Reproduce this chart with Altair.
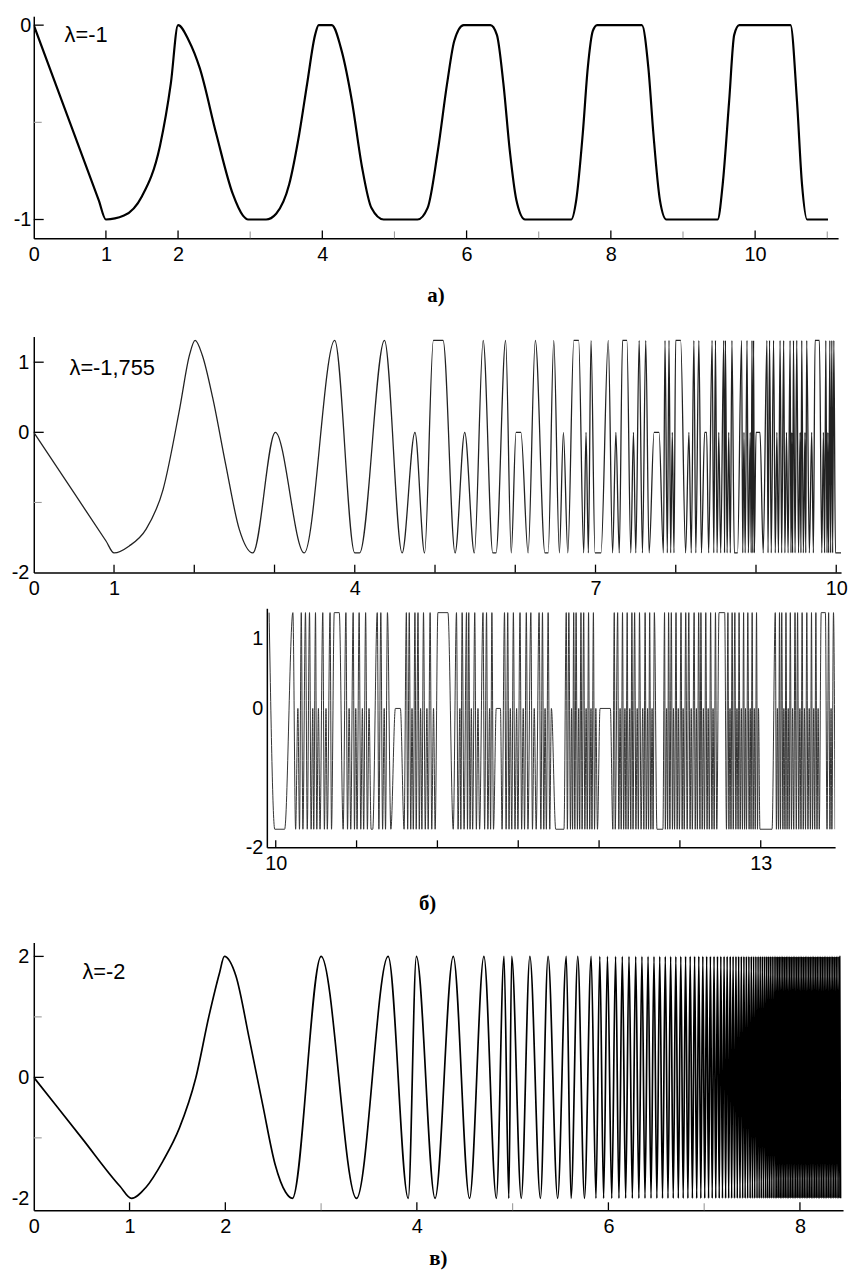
import altair as alt
import pandas as pd

# ---------------- panel а)  (λ = -1) ----------------
a_t = [0, 0.5, 0.9, 1.0, 1.25, 1.5, 1.75, 1.9, 2.0, 2.15, 2.3, 2.53, 2.76, 2.9, 2.97, 3.22,
       3.36, 3.54, 3.68, 3.79, 3.90, 3.95, 4.13, 4.27, 4.41, 4.55, 4.68, 4.85, 5.32,
       5.46, 5.60, 5.73, 5.83, 5.96, 6.33, 6.42, 6.51, 6.60, 6.69, 6.81, 7.45, 7.52, 7.61,
       7.68, 7.75, 7.81, 8.43, 8.52, 8.59, 8.68, 8.77, 9.48, 9.55, 9.64, 9.71, 9.78, 10.49,
       10.58, 10.65, 10.72, 11.01]
a_v = [0, -0.5, -0.9, -1.0, -0.98, -0.88, -0.62, -0.3, 0.0, -0.08, -0.22, -0.56, -0.87, -0.98, -1.0, -1.0,
       -0.97, -0.82, -0.56, -0.30, -0.05, 0.0, 0.0, -0.135, -0.39, -0.73, -0.94, -1.0, -1.0,
       -0.94, -0.65, -0.30, -0.08, 0.0, 0.0, -0.05, -0.30, -0.65, -0.90, -1.0, -1.0, -0.90, -0.56,
       -0.22, -0.03, 0.0, 0.0, -0.22, -0.56, -0.90, -1.0, -1.0, -0.82, -0.39, -0.05, 0.0, 0.0,
       -0.39, -0.82, -1.0, -1.0]

# ---------------- panel б)  (λ = -1,755) ----------------
B_LEVELS = {"H": 1.31, "M": 0.0, "L": -1.72}        # upper part, as read against its axis
BB_LEVELS = {"H": 1.38, "M": 0.0, "L": -1.74}       # lower (continued) part, as read against its axis
b_start_t = [0, 0.5, 0.9, 1.19, 1.40, 1.61, 1.82, 1.94, 2.10, 2.23, 2.39, 2.56]
b_start_v = [0, -0.86, -1.55, -1.62, -1.38, -0.82, 0.35, 1.10, 1.10, 0.49, -0.45, -1.38]
b_top_ext = [
    (1.0, "L"), (2.01, "H"), (2.73, "L"), (3.01, "M"), (3.37, "L"), (3.75, "H"), (4.00, "L"), (4.06, "L"),
    (4.37, "H"), (4.59, "L"), (4.75, "M"), (4.87, "L"), (4.98, "H"), (5.10, "H"), (5.25, "L"), (5.37, "M"),
    (5.49, "L"), (5.60, "H"), (5.72, "L"), (5.76, "L"), (5.88, "H"), (5.95, "L"), (6.01, "M"), (6.07, "M"),
    (6.16, "L"), (6.25, "H"), (6.37, "L"), (6.41, "L"), (6.48, "H"), (6.55, "L"), (6.60, "M"), (6.655, "L"),
    (6.73, "H"), (6.79, "H"), (6.853, "L"), (6.882, "M"), (6.911, "L"), (6.944, "H"), (6.994, "L"), (7.068, "L"),
    (7.159, "H"), (7.213, "L"), (7.254, "M"), (7.296, "L"), (7.337, "H"), (7.391, "H"), (7.44, "L"), (7.473, "M"),
    (7.502, "L"), (7.544, "H"), (7.585, "L"), (7.626, "H"), (7.668, "L"), (7.73, "M"), (7.792, "M"), (7.846, "L"),
    (7.866, "H"), (7.895, "L"), (7.916, "H"), (7.937, "L"), (7.957, "M"), (7.978, "L"), (7.999, "H"), (8.061, "H"),
    (8.123, "L"), (8.164, "M"), (8.193, "L"), (8.226, "H"), (8.25, "L"), (8.288, "H"), (8.32, "L"), (8.36, "M"),
    (8.385, "M"), (8.41, "L"), (8.453, "H"), (8.474, "L"), (8.495, "H"), (8.515, "L"), (8.536, "M"), (8.56, "L"),
    (8.598, "H"), (8.608, "L"), (8.619, "H"), (8.64, "L"), (8.66, "M"), (8.68, "L"), (8.70, "H"), (8.73, "L"),
    (8.77, "L"), (8.82, "H"), (8.835, "L"), (8.85, "M"), (8.865, "L"), (8.888, "H"), (8.905, "L"), (8.928, "M"),
    (8.94, "L"), (8.95, "H"), (8.96, "L"), (8.97, "H"), (8.98, "L"), (9.0, "M"), (9.05, "M"), (9.09, "L"),
    (9.136, "H"), (9.15, "L"), (9.169, "H"), (9.19, "L"), (9.219, "H"), (9.24, "L"), (9.26, "M"), (9.28, "L"),
    (9.30, "H"), (9.32, "L"), (9.345, "H"), (9.36, "L"), (9.38, "M"), (9.40, "L"), (9.425, "H"), (9.436, "L"),
    (9.446, "M"), (9.456, "L"), (9.467, "H"), (9.487, "L"), (9.508, "H"), (9.53, "L"), (9.55, "M"), (9.56, "L"),
    (9.57, "H"), (9.59, "L"), (9.61, "M"), (9.62, "L"), (9.632, "H"), (9.665, "L"), (9.694, "M"), (9.715, "L"),
    (9.736, "H"), (9.79, "H"), (9.82, "L"), (9.84, "M"), (9.855, "L"), (9.87, "H"), (9.885, "L"), (9.895, "M"),
    (9.905, "L"), (9.92, "H"), (9.93, "L"), (9.945, "H"), (9.955, "L"), (9.97, "H"), (9.99, "L"), (10.06, "L"),
]
b_bot_ext = [
    (9.959, "H"), (9.994, "L"), (10.055, "L"), (10.106, "H"), (10.123, "L"), (10.137, "M"), (10.147, "L"),
    (10.158, "H"), (10.168, "L"), (10.184, "H"), (10.195, "L"), (10.209, "H"), (10.219, "L"), (10.229, "M"),
    (10.235, "L"), (10.246, "H"), (10.254, "L"), (10.264, "M"), (10.274, "L"), (10.291, "H"), (10.301, "L"),
    (10.311, "M"), (10.319, "L"), (10.336, "H"), (10.345, "L"), (10.362, "H"), (10.393, "H"), (10.417, "L"),
    (10.434, "H"), (10.444, "L"), (10.454, "M"), (10.464, "L"), (10.479, "H"), (10.487, "L"), (10.495, "M"),
    (10.503, "L"), (10.516, "H"), (10.526, "L"), (10.536, "M"), (10.544, "L"), (10.556, "H"), (10.567, "L"),
    (10.577, "M"), (10.59, "L"), (10.60, "L"), (10.628, "H"), (10.638, "L"), (10.650, "H"), (10.661, "L"),
    (10.671, "M"), (10.679, "L"), (10.691, "H"), (10.712, "L"), (10.740, "M"), (10.771, "M"), (10.794, "L"),
    (10.808, "H"), (10.816, "L"), (10.826, "H"), (10.835, "L"), (10.843, "M"), (10.851, "L"), (10.861, "H"),
    (10.869, "L"), (10.880, "H"), (10.888, "L"), (10.896, "M"), (10.904, "L"), (10.914, "H"), (10.925, "L"),
    (10.935, "M"), (10.943, "L"), (10.955, "H"), (10.965, "L"), (10.976, "M"), (10.986, "L"), (11.003, "H"),
    (11.065, "H"), (11.098, "L"), (11.118, "H"), (11.128, "L"), (11.139, "M"), (11.145, "L"), (11.153, "H"),
    (11.165, "L"), (11.18, "H"), (11.186, "L"), (11.194, "H"), (11.202, "L"), (11.21, "M"), (11.218, "L"),
    (11.231, "H"), (11.241, "L"), (11.251, "M"), (11.261, "L"), (11.282, "H"), (11.292, "L"), (11.304, "H"),
    (11.312, "L"), (11.323, "M"), (11.329, "L"), (11.337, "H"), (11.347, "L"), (11.364, "M"), (11.39, "M"),
    (11.40, "L"), (11.415, "H"), (11.425, "L"), (11.435, "H"), (11.443, "L"), (11.451, "M"), (11.46, "L"),
    (11.47, "H"), (11.48, "L"), (11.49, "M"), (11.498, "L"), (11.511, "H"), (11.521, "L"), (11.531, "M"),
    (11.539, "L"), (11.55, "H"), (11.56, "L"), (11.578, "H"), (11.588, "L"), (11.599, "M"), (11.611, "L"),
    (11.629, "H"), (11.64, "L"), (11.65, "H"), (11.658, "L"), (11.666, "M"), (11.674, "L"), (11.685, "H"),
    (11.695, "L"), (11.705, "M"), (11.732, "L"), (11.783, "L"), (11.797, "H"), (11.804, "L"), (11.813, "H"),
    (11.823, "L"), (11.83, "M"), (11.836, "L"), (11.843, "H"), (11.85, "L"), (11.858, "H"), (11.866, "L"),
    (11.874, "M"), (11.88, "L"), (11.888, "H"), (11.895, "L"), (11.905, "H"), (11.912, "L"), (11.92, "M"),
    (11.927, "L"), (11.935, "H"), (11.942, "L"), (11.95, "M"), (11.956, "L"), (11.965, "H"), (11.972, "L"),
    (11.98, "M"), (11.99, "L"), (12.006, "M"), (12.07, "M"), (12.085, "L"), (12.094, "H"), (12.10, "L"),
    (12.115, "H"), (12.122, "L"), (12.13, "M"), (12.137, "L"), (12.145, "H"), (12.152, "L"), (12.16, "M"),
    (12.166, "L"), (12.174, "H"), (12.18, "L"), (12.19, "M"), (12.196, "L"), (12.203, "H"), (12.21, "L"),
    (12.22, "H"), (12.228, "L"), (12.236, "M"), (12.243, "L"), (12.25, "H"), (12.26, "L"), (12.27, "M"),
    (12.277, "L"), (12.285, "H"), (12.292, "L"), (12.3, "M"), (12.306, "L"), (12.313, "H"), (12.32, "L"),
    (12.328, "M"), (12.334, "L"), (12.342, "H"), (12.358, "L"), (12.395, "L"), (12.405, "H"), (12.41, "L"),
    (12.418, "M"), (12.424, "L"), (12.43, "H"), (12.438, "L"), (12.447, "H"), (12.454, "L"), (12.46, "M"),
    (12.467, "L"), (12.476, "H"), (12.483, "L"), (12.49, "M"), (12.497, "L"), (12.507, "H"), (12.514, "L"),
    (12.52, "M"), (12.527, "L"), (12.536, "H"), (12.545, "L"), (12.555, "H"), (12.563, "L"), (12.57, "M"),
    (12.577, "L"), (12.588, "H"), (12.595, "L"), (12.602, "M"), (12.608, "L"), (12.616, "H"), (12.624, "L"),
    (12.63, "H"), (12.638, "L"), (12.645, "M"), (12.652, "L"), (12.66, "H"), (12.668, "L"), (12.675, "M"),
    (12.682, "L"), (12.69, "H"), (12.698, "L"), (12.705, "M"), (12.712, "L"), (12.72, "H"), (12.728, "L"),
    (12.742, "H"), (12.777, "H"), (12.788, "L"), (12.797, "H"), (12.803, "L"), (12.81, "M"), (12.816, "L"),
    (12.823, "H"), (12.83, "L"), (12.84, "H"), (12.846, "L"), (12.853, "M"), (12.86, "L"), (12.866, "H"),
    (12.873, "L"), (12.88, "M"), (12.887, "L"), (12.894, "H"), (12.9, "L"), (12.906, "M"), (12.912, "L"),
    (12.92, "H"), (12.928, "L"), (12.935, "M"), (12.94, "L"), (12.947, "H"), (12.953, "L"), (12.96, "M"),
    (12.966, "L"), (12.974, "H"), (12.98, "L"), (12.986, "M"), (12.995, "L"), (13.07, "L"), (13.09, "H"),
    (13.097, "L"), (13.103, "M"), (13.11, "L"), (13.116, "H"), (13.122, "L"), (13.13, "H"), (13.137, "L"),
    (13.143, "M"), (13.15, "L"), (13.156, "H"), (13.163, "L"), (13.17, "M"), (13.176, "L"), (13.183, "H"),
    (13.19, "L"), (13.197, "M"), (13.204, "L"), (13.212, "H"), (13.22, "L"), (13.228, "H"), (13.235, "L"),
    (13.242, "M"), (13.249, "L"), (13.256, "H"), (13.263, "L"), (13.27, "M"), (13.277, "L"), (13.285, "H"),
    (13.292, "L"), (13.3, "M"), (13.307, "L"), (13.314, "H"), (13.32, "L"), (13.328, "M"), (13.334, "L"),
    (13.341, "H"), (13.348, "L"), (13.355, "M"), (13.362, "L"), (13.374, "H"), (13.40, "H"), (13.41, "L"),
    (13.42, "H"), (13.428, "L"), (13.435, "M"), (13.44, "L"), (13.45, "H"), (13.46, "L"),
]

# ---------------- panel в)  (λ = -2) ----------------
C_LEVELS = {"H": 2.0, "L": -2.0}
c_start_t = [0, 0.5, 0.9, 1.17, 1.35, 1.52, 1.69, 1.83, 1.94, 2.11, 2.25, 2.39, 2.52, 2.63]
c_start_v = [0, -1.0, -1.8, -1.82, -1.38, -0.84, -0.02, 1.02, 1.73, 1.68, 0.64, -0.45, -1.44, -1.9]
c_ext = [
    (1.02, "L"), (1.99, "H"), (2.70, "L"), (3.00, "H"), (3.37, "L"), (3.70, "H"), (3.91, "L"), (3.995, "H"),
    (4.19, "L"), (4.38, "H"), (4.55, "L"), (4.70, "H"), (4.83, "L"), (4.91, "H"), (4.96, "L"), (4.99, "H"),
    (5.09, "L"), (5.18, "H"), (5.29, "L"), (5.37, "H"), (5.47, "L"), (5.56, "H"), (5.61, "L"), (5.68, "H"),
    (5.75, "L"), (5.82, "H"), (5.87, "L"), (5.91, "H"), (5.95, "L"), (5.99, "H"), (6.035, "L"), (6.075, "H"),
    (6.11, "L"), (6.145, "H"), (6.18, "L"), (6.215, "H"), (6.25, "L"), (6.285, "H"), (6.318, "L"), (6.35, "H"),
    (6.382, "L"), (6.414, "H"), (6.445, "L"), (6.476, "H"), (6.506, "L"), (6.536, "H"), (6.565, "L"), (6.594, "H"),
    (6.622, "L"), (6.65, "H"), (6.677, "L"), (6.704, "H"), (6.73, "L"), (6.756, "H"), (6.781, "L"), (6.806, "H"),
    (6.83, "L"), (6.854, "H"), (6.877, "L"), (6.9, "H"), (6.922, "L"), (6.944, "H"), (6.965, "L"), (6.986, "H"),
    (7.006, "L"), (7.026, "H"), (7.046, "L"), (7.065, "H"), (7.084, "L"), (7.103, "H"), (7.121, "L"), (7.139, "H"),
    (7.157, "L"), (7.174, "H"), (7.191, "L"), (7.208, "H"), (7.224, "L"), (7.24, "H"), (7.256, "L"), (7.272, "H"),
    (7.287, "L"), (7.302, "H"), (7.317, "L"), (7.332, "H"), (7.346, "L"), (7.36, "H"), (7.374, "L"), (7.388, "H"),
    (7.402, "L"), (7.415, "H"), (7.428, "L"), (7.441, "H"), (7.454, "L"), (7.467, "H"), (7.48, "L"), (7.492, "H"),
    (7.504, "L"), (7.516, "H"), (7.528, "L"), (7.54, "H"), (7.552, "L"), (7.563, "H"), (7.574, "L"), (7.585, "H"),
    (7.596, "L"), (7.607, "H"), (7.618, "L"), (7.629, "H"), (7.64, "L"), (7.65, "H"), (7.66, "L"), (7.67, "H"),
    (7.68, "L"), (7.69, "H"), (7.7, "L"), (7.71, "H"), (7.72, "L"), (7.73, "H"), (7.74, "L"), (7.749, "H"),
    (7.758, "L"), (7.767, "H"), (7.776, "L"), (7.785, "H"), (7.794, "L"), (7.803, "H"), (7.812, "L"), (7.821, "H"),
    (7.83, "L"), (7.839, "H"), (7.848, "L"), (7.857, "H"), (7.866, "L"), (7.875, "H"), (7.884, "L"), (7.893, "H"),
    (7.902, "L"), (7.911, "H"), (7.92, "L"), (7.929, "H"), (7.938, "L"), (7.947, "H"), (7.956, "L"), (7.965, "H"),
    (7.974, "L"), (7.983, "H"), (7.992, "L"), (8.001, "H"), (8.01, "L"), (8.019, "H"), (8.028, "L"), (8.037, "H"),
    (8.046, "L"), (8.055, "H"), (8.064, "L"), (8.073, "H"), (8.082, "L"), (8.091, "H"), (8.1, "L"), (8.109, "H"),
    (8.118, "L"), (8.127, "H"), (8.136, "L"), (8.145, "H"), (8.154, "L"), (8.163, "H"), (8.172, "L"), (8.181, "H"),
    (8.19, "L"), (8.199, "H"), (8.208, "L"), (8.217, "H"), (8.226, "L"), (8.235, "H"), (8.244, "L"), (8.253, "H"),
    (8.262, "L"), (8.271, "H"), (8.28, "L"), (8.289, "H"), (8.298, "L"), (8.307, "H"), (8.316, "L"), (8.325, "H"),
    (8.334, "L"), (8.343, "H"), (8.352, "L"), (8.361, "H"), (8.37, "L"), (8.379, "H"), (8.388, "L"), (8.397, "H"),
    (8.406, "L"), (8.415, "H"), (8.424, "L"),
]

# ---------------- axes: labels and ticks ----------------
a_xlabels = [0, 1, 2, 4, 6, 8, 10]
a_xticks = [1, 2, 4, 6, 8, 10]
a_xminor = [3, 5, 7, 9, 11]
a_ylabels = [0, -1]
a_yticks = [0, -1]
a_yminor = [-0.5]
b_xlabels = [0, 1, 4, 7, 10]
b_xticks = [1, 2, 3, 4, 5, 6, 7, 8, 9, 10]
b_ylabels = [1, 0, -2]
b_yticks = [1, 0]
b_yminor = [-1]
bb_xlabels = [10, 13]
bb_xticks = [10, 10.5, 11, 11.5, 12, 12.5, 13]
bb_ylabels = [1, 0, -2]
c_xlabels = [0, 1, 2, 4, 6, 8]
c_xticks = [1, 2, 4, 6, 8]
c_xminor = [3, 5, 7]
c_ylabels = [2, 0, -2]
c_yticks = [2, 0]
c_yminor = [1, -1]

FONT = "Liberation Sans"
XEXT = 28
YEXT = 26


def table(start_t, start_v, ext, levels):
    rows = [(t, v) for t, v in zip(start_t, start_v)]
    rows += [(t, levels[k]) for t, k in ext]
    return pd.DataFrame(rows, columns=["t", "v"]).sort_values("t").reset_index(drop=True)


def panel(df, xdom, ydom, w, h, xlabels, ylabels, xmaj, xmin, ymaj, ymin,
          lam=None, lam_xy=(0, 0), stroke=2.0, color="black", ylabpad=4, yext=YEXT, tick=8):
    common = dict(ticks=False, grid=False, title=None, labelOverlap=False, labelFlush=False,
                  labelExpr="'' + datum.value", labelFont=FONT, labelFontSize=20,
                  labelColor="black", domainColor="black", domainWidth=1.5)
    xa = alt.Axis(values=xlabels, labelPadding=6, minExtent=XEXT, maxExtent=XEXT, **common)
    ya = alt.Axis(values=ylabels, labelPadding=ylabpad, minExtent=yext, maxExtent=yext, **common)
    X = alt.X("t:Q", scale=alt.Scale(domain=xdom, nice=False, zero=False), axis=xa)
    Y = alt.Y("v:Q", scale=alt.Scale(domain=ydom, nice=False, zero=False), axis=ya)
    layers = [alt.Chart(df).mark_line(interpolate="monotone", clip=True, strokeWidth=stroke,
                                      color=color, strokeJoin="round").encode(x=X, y=Y)]
    if xmaj:
        layers.append(alt.Chart(pd.DataFrame({"t": xmaj})).mark_rule(color="black", strokeWidth=1.3)
                      .encode(x=X, y=alt.value(h), y2=alt.value(h - tick)))
    if xmin:
        layers.append(alt.Chart(pd.DataFrame({"t": xmin})).mark_rule(color="#9a9a9a", strokeWidth=1.1)
                      .encode(x=X, y=alt.value(h), y2=alt.value(h - tick + 1)))
    if ymaj:
        layers.append(alt.Chart(pd.DataFrame({"v": ymaj})).mark_rule(color="black", strokeWidth=1.3)
                      .encode(y=Y, x=alt.value(0), x2=alt.value(10)))
    if ymin:
        layers.append(alt.Chart(pd.DataFrame({"v": ymin})).mark_rule(color="#9a9a9a", strokeWidth=1.1)
                      .encode(y=Y, x=alt.value(0), x2=alt.value(8)))
    if lam:
        layers.append(alt.Chart(pd.DataFrame({"s": [lam]})).mark_text(
            align="left", baseline="middle", font=FONT, fontSize=22, color="black")
            .encode(text="s:N", x=alt.value(lam_xy[0]), y=alt.value(lam_xy[1])))
    return alt.layer(*layers).properties(width=w, height=h)


def label_title(s, offset):
    return alt.TitleParams(s, orient="bottom", anchor="middle", font="Liberation Serif",
                           fontSize=21, fontWeight="bold", color="black", offset=offset)


df_a = pd.DataFrame({"t": a_t, "v": a_v})
df_b = table(b_start_t, b_start_v, b_top_ext, B_LEVELS)
df_bb = table([], [], b_bot_ext, BB_LEVELS)
df_c = table(c_start_t, c_start_v, c_ext, C_LEVELS)

chart_a = panel(df_a, [0, 11.15], [-1.097, 0.046], 811, 224, a_xlabels, a_ylabels,
                a_xticks, a_xminor, a_yticks, a_yminor,
                lam="λ=-1", lam_xy=(31, 19), stroke=2.2, ylabpad=3).properties(
    title=label_title("а)", 19))

chart_b_top = panel(df_b, [0, 10.06], [-2, 1.366], 814, 238, b_xlabels, b_ylabels,
                    b_xticks, [], b_yticks, b_yminor,
                    lam="λ=-1,755", lam_xy=(36, 32), stroke=1.3, color="#222222", ylabpad=5)
chart_b_bot = panel(df_bb, [9.945, 13.46], [-2, 1.443], 573, 241, bb_xlabels, bb_ylabels,
                    bb_xticks, [], [], [], stroke=1.0, color="#333333", ylabpad=4, yext=24, tick=7)

spacer = alt.Chart(pd.DataFrame({"s": [""]})).mark_text().encode(
    text="s:N", x=alt.value(0), y=alt.value(0)).properties(width=211, height=10)

group_b = alt.vconcat(chart_b_top, alt.hconcat(spacer, chart_b_bot, spacing=0),
                      spacing=2).properties(title=label_title("б)", 18))

chart_c = panel(df_c, [0, 8.45], [-2.197, 2.23], 816, 270, c_xlabels, c_ylabels,
                c_xticks, c_xminor, c_yticks, c_yminor,
                lam="λ=-2", lam_xy=(49, 30), stroke=1.7, ylabpad=5).properties(
    title=label_title("в)", 10))

upper = alt.vconcat(chart_a, group_b, spacing=31)
chart = alt.vconcat(upper, chart_c, spacing=29).properties(
    padding={"left": 0, "top": 2, "right": 0, "bottom": 0}).configure_view(stroke=None)

chart.save("out.html", embed_options={"renderer": "svg", "actions": False})
